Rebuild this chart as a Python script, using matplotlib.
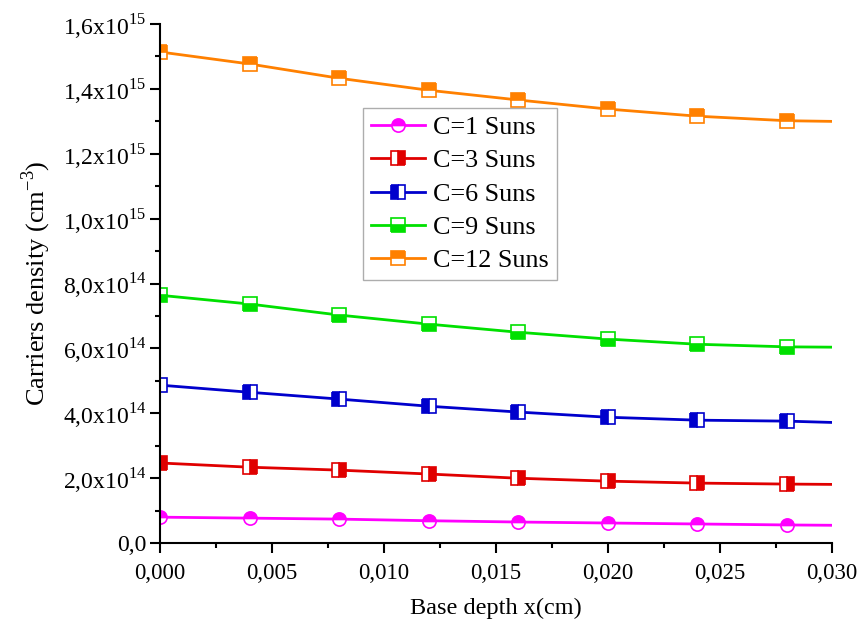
import math
import matplotlib
matplotlib.use("Agg")
import matplotlib.pyplot as plt
from matplotlib.ticker import FuncFormatter, MultipleLocator

plt.rcParams['font.family'] = ['Liberation Serif', 'DejaVu Serif']
plt.rcParams['mathtext.fontset'] = 'custom'
plt.rcParams['mathtext.rm'] = 'Liberation Serif'

x = [0.000, 0.004, 0.008, 0.012, 0.016, 0.020, 0.024, 0.028, 0.030]
labels = ["C=1 Suns", "C=3 Suns", "C=6 Suns", "C=9 Suns", "C=12 Suns"]
c1 = [0.80, 0.77, 0.74, 0.69, 0.65, 0.62, 0.59, 0.56, 0.55]
c3 = [2.47, 2.34, 2.25, 2.13, 2.00, 1.91, 1.85, 1.82, 1.81]
c6 = [4.87, 4.65, 4.44, 4.22, 4.04, 3.88, 3.79, 3.76, 3.72]
c9 = [7.64, 7.37, 7.03, 6.75, 6.50, 6.29, 6.13, 6.05, 6.04]
c12 = [15.14, 14.77, 14.33, 13.96, 13.66, 13.38, 13.16, 13.02, 13.00]
series = [c1, c3, c6, c9, c12]
scale = 1e14
colors = ['#FF00FF', '#E00000', '#0000CC', '#00E000', '#FF8000']
markers = ['o', 's', 's', 's', 's']
fills = ['top', 'right', 'left', 'bottom', 'top']

fig = plt.figure(figsize=(8.6, 6.33), dpi=100)
ax = fig.add_axes([0.186, 0.142, 0.781, 0.820])

for ys, lab, col, m, fs in zip(series, labels, colors, markers, fills):
    yv = [v * scale for v in ys]
    ax.plot(x, yv, color=col, lw=2, marker=m, markevery=list(range(8)),
            fillstyle=fs, markersize=9.5, markerfacecoloralt='white',
            markeredgecolor=col, markeredgewidth=1.2, label=lab)

ax.set_xlim(0, 0.030)
ax.set_ylim(0, 1.6e15)
ax.xaxis.set_major_locator(MultipleLocator(0.005))
ax.xaxis.set_minor_locator(MultipleLocator(0.0025))
ax.yaxis.set_major_locator(MultipleLocator(2e14))
ax.yaxis.set_minor_locator(MultipleLocator(1e14))

def yfmt(v, pos):
    if v < 1:
        return "0,0"
    e = int(math.floor(math.log10(v) + 1e-9))
    m = v / 10**e
    return ("%.1f" % m).replace('.', ',') + "x10$^{%d}$" % e

def xfmt(v, pos):
    return ("%.3f" % abs(v)).replace('.', ',')

ax.yaxis.set_major_formatter(FuncFormatter(yfmt))
ax.xaxis.set_major_formatter(FuncFormatter(xfmt))

for s in ['top', 'right']:
    ax.spines[s].set_visible(False)
for s in ['left', 'bottom']:
    ax.spines[s].set_linewidth(1.5)
ax.tick_params(which='major', direction='out', length=7, width=1.5)
ax.tick_params(which='minor', direction='out', length=3.8, width=1.5)
ax.tick_params(axis='y', which='major', labelsize=17, pad=3)
ax.tick_params(axis='x', which='major', labelsize=16.5, pad=7)

ax.set_xlabel("Base depth x(cm)", fontsize=17.5, labelpad=10)
ax.set_ylabel("Carriers density (cm$^{-3}$)", fontsize=19, labelpad=7)

leg = ax.legend(loc='upper left', bbox_to_anchor=(0.302, 0.838), fontsize=18.8,
                frameon=True, fancybox=False, edgecolor='#999999',
                handlelength=2.1, borderpad=0.3, labelspacing=0.38, handletextpad=0.3,
                borderaxespad=0)
leg.get_frame().set_linewidth(1.0)

fig.savefig("out.png", dpi=100)
